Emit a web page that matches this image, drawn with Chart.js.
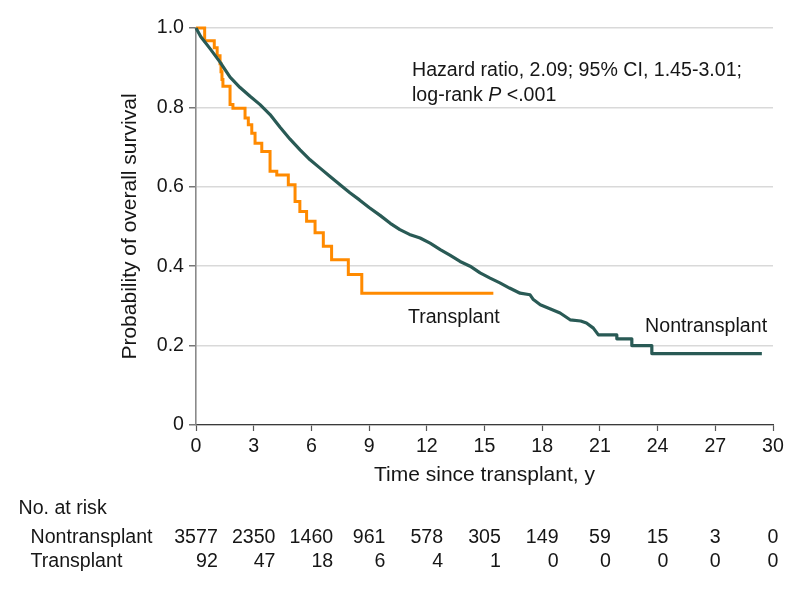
<!DOCTYPE html>
<html>
<head>
<meta charset="utf-8">
<script src="https://cdn.jsdelivr.net/npm/chart.js@4/dist/chart.umd.min.js"></script>
<style>
  html, body { margin: 0; padding: 0; background: #ffffff; }
  #c { display: block; }
</style>
</head>
<body>
<canvas id="c" width="798" height="589"></canvas>
<script>
// ---- Data ----
const xTicks = [0, 3, 6, 9, 12, 15, 18, 21, 24, 27, 30];
const yTickLabels = ['0', '0.2', '0.4', '0.6', '0.8', '1.0'];

// Transplant KM curve: time (y) and survival after each drop
const transplantT = [0, 0.45, 0.95, 1.1, 1.25, 1.3, 1.35, 1.4, 1.77, 1.92, 2.55, 2.72, 2.9, 3.07, 3.42, 3.85, 4.2, 4.8, 5.15, 5.4, 5.75, 6.19, 6.62, 7.05, 7.92, 8.62, 15.46];
const transplantS = [1.0, 0.968, 0.95, 0.93, 0.91, 0.89, 0.87, 0.853, 0.807, 0.798, 0.773, 0.756, 0.735, 0.71, 0.689, 0.639, 0.63, 0.605, 0.563, 0.538, 0.513, 0.484, 0.45, 0.416, 0.379, 0.332, 0.332];

// Nontransplant KM curve
const nontransplantT = [0, 0.25, 0.73, 1.25, 1.77, 2.29, 2.81, 3.33, 3.85, 4.37, 4.89, 5.41, 5.93, 6.45, 6.97, 7.49, 8.0, 8.5, 9.0, 9.57, 10.1, 10.6, 11.1, 11.65, 12.17, 12.7, 13.2, 13.73, 14.25, 14.77, 15.29, 15.8, 16.3, 16.85, 17.37, 17.54, 17.9, 18.4, 18.93, 19.45, 20.0, 20.3, 20.66, 20.92, 21.88, 21.88, 22.66, 22.66, 23.7, 23.7, 29.42];
const nontransplantS = [1.0, 0.978, 0.948, 0.914, 0.876, 0.85, 0.828, 0.807, 0.782, 0.75, 0.72, 0.693, 0.668, 0.647, 0.626, 0.605, 0.585, 0.567, 0.548, 0.528, 0.508, 0.492, 0.48, 0.471, 0.458, 0.442, 0.428, 0.412, 0.40, 0.383, 0.37, 0.358, 0.345, 0.332, 0.328, 0.316, 0.303, 0.293, 0.282, 0.265, 0.262, 0.257, 0.244, 0.227, 0.227, 0.217, 0.217, 0.20, 0.20, 0.18, 0.18];

// Number at risk
const riskTimes = [0, 3, 6, 9, 12, 15, 18, 21, 24, 27, 30];
const riskNontransplant = [3577, 2350, 1460, 961, 578, 305, 149, 59, 15, 3, 0];
const riskTransplant = [92, 47, 18, 6, 4, 1, 0, 0, 0, 0, 0];

const seriesNames = ['Nontransplant', 'Transplant'];

// ---- Styles ----
const FONT = '"Liberation Sans", Arial, sans-serif';
const FS = 19.6;
const FS_TITLE = 21;
const TEXT = '#161616';
const GREEN = '#295a55';
const ORANGE = '#ff8a00';

const toXY = (ts, ss) => ts.map((t, i) => ({ x: t, y: ss[i] }));

const textPlugin = {
  id: 'kmTexts',
  afterDraw(chart) {
    const { ctx, scales: { x, y } } = chart;
    ctx.save();
    ctx.fillStyle = TEXT;
    ctx.textBaseline = 'alphabetic';
    ctx.textAlign = 'left';
    const f = `${FS}px ${FONT}`;
    const fi = `italic ${FS}px ${FONT}`;
    ctx.font = f;

    // Hazard ratio annotation
    const hx = x.getPixelForValue(11.23);
    ctx.fillText('Hazard ratio, 2.09; 95% CI, 1.45-3.01;', hx, y.getPixelForValue(0.878));
    let lx = hx;
    const ly = y.getPixelForValue(0.815);
    ctx.fillText('log-rank ', lx, ly);
    lx += ctx.measureText('log-rank ').width;
    ctx.font = fi;
    ctx.fillText('P', lx, ly);
    lx += ctx.measureText('P').width;
    ctx.font = f;
    ctx.fillText(' <.001', lx, ly);

    // Curve labels
    ctx.fillText(seriesNames[1], x.getPixelForValue(11.02), y.getPixelForValue(0.258));
    ctx.fillText(seriesNames[0], x.getPixelForValue(23.35), y.getPixelForValue(0.233));

    // Number at risk table
    ctx.fillText('No. at risk', 18.5, 514);
    const row1 = 542.5, row2 = 566.5;
    ctx.fillText(seriesNames[0], 30.5, row1);
    ctx.fillText(seriesNames[1], 30.5, row2);
    riskTimes.forEach((t, i) => {
      const px = x.getPixelForValue(t);
      const s1 = String(riskNontransplant[i]);
      const w1 = ctx.measureText(s1).width;
      ctx.textAlign = 'center';
      ctx.fillText(s1, px, row1);
      ctx.textAlign = 'right';
      ctx.fillText(String(riskTransplant[i]), px + w1 / 2, row2);
    });
    ctx.restore();
  }
};

new Chart(document.getElementById('c'), {
  type: 'line',
  data: {
    datasets: [
      {
        label: seriesNames[0],
        data: toXY(nontransplantT, nontransplantS),
        borderColor: GREEN,
        borderWidth: 3.2,
        pointRadius: 0,
        fill: false,
        tension: 0,
        clip: false,
        borderJoinStyle: 'round'
      },
      {
        label: seriesNames[1],
        data: toXY(transplantT, transplantS),
        borderColor: ORANGE,
        borderWidth: 3,
        pointRadius: 0,
        fill: false,
        stepped: true,
        clip: false,
        borderJoinStyle: 'miter'
      }
    ]
  },
  options: {
    responsive: false,
    animation: false,
    devicePixelRatio: 1,
    layout: { padding: { left: 118, top: 28, right: 25, bottom: 101 } },
    plugins: { legend: { display: false }, tooltip: { enabled: false } },
    scales: {
      x: {
        type: 'linear',
        min: 0,
        max: 30,
        afterFit(s) { s.height = 63; },
        afterBuildTicks(s) { s.ticks = xTicks.map(v => ({ value: v })); },
        ticks: {
          autoSkip: false,
          maxRotation: 0,
          padding: 4,
          color: TEXT,
          font: { family: FONT, size: FS },
          callback: (v) => String(v)
        },
        grid: { display: true, drawOnChartArea: false, drawTicks: true, tickLength: 6, tickColor: '#555555', tickWidth: 1.2 },
        border: { display: true, color: '#3a3a3a', width: 1.3 },
        title: {
          display: true,
          text: 'Time since transplant, y',
          color: TEXT,
          font: { family: FONT, size: FS_TITLE },
          padding: { top: 0, bottom: 0 }
        }
      },
      y: {
        type: 'linear',
        min: 0,
        max: 1,
        afterFit(s) { s.width = 78; },
        ticks: {
          stepSize: 0.2,
          padding: 5,
          color: TEXT,
          font: { family: FONT, size: FS },
          callback: (v, i) => yTickLabels[i]
        },
        grid: { color: '#d9d9d9', lineWidth: 1.6, drawTicks: true, tickLength: 7, tickColor: '#555555', tickWidth: 1.2 },
        border: { display: true, color: '#8a8a8a', width: 1.6 },
        title: {
          display: true,
          text: 'Probability of overall survival',
          color: TEXT,
          font: { family: FONT, size: FS_TITLE },
          padding: { top: 0, bottom: 0 }
        }
      }
    }
  },
  plugins: [textPlugin]
});
</script>
</body>
</html>
